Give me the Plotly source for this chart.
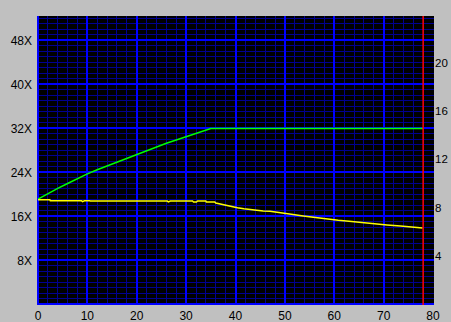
import plotly.graph_objects as go

# Read speed (green) and the other curve (yellow), position on disc
green_x = [0, 2, 4, 6, 8, 10, 12, 14, 16, 18, 20, 22, 24, 26, 28, 30, 32, 34, 35, 78]
green_y = [19.15, 20.2, 21.1, 22.0, 22.9, 23.75, 24.5, 25.2, 25.9, 26.6, 27.3, 28.0, 28.7,
           29.3, 29.9, 30.5, 31.1, 31.7, 32.0, 32.0]

yellow_x = [0, 2.4, 2.5, 8.8, 9.0, 9.4, 10.5, 10.6, 26.2, 26.4, 26.8, 31.3, 31.5, 32.1, 32.3,
            34.0, 34.1, 35.8, 36.0, 37.2, 38.2, 39.2, 40.4, 41.7, 43.3, 44.3, 45.6, 47.0,
            48, 50, 52, 53.7, 55.2, 57.1, 59.0, 60.8, 63.0, 64.8, 66.9, 68.9, 70.7, 73.4,
            75.6, 77.9]
yellow_y = [19.05, 19.05, 18.85, 18.85, 18.7, 18.85, 18.85, 18.8, 18.8, 18.65, 18.8, 18.8, 18.63,
            18.63, 18.8, 18.8, 18.63, 18.63, 18.45, 18.2, 17.96, 17.78, 17.6, 17.42, 17.23,
            17.1, 17.0, 16.95, 16.8, 16.55, 16.3, 16.08, 15.9, 15.72, 15.48, 15.29, 15.11,
            14.93, 14.81, 14.63, 14.45, 14.26, 14.08, 13.9]

end_position = 78

left_tickvals = [8, 16, 24, 32, 40, 48]
left_ticktext = ["8X", "16X", "24X", "32X", "40X", "48X"]
right_tickvals = [4, 8, 12, 16, 20]
bottom_tickvals = [0, 10, 20, 30, 40, 50, 60, 70, 80]

left_max = 52.45
right_scale = 2.2

fig = go.Figure()
fig.add_trace(go.Scatter(x=green_x, y=green_y, mode="lines",
                         line=dict(color="#00ff00", width=1.5), showlegend=False))
fig.add_trace(go.Scatter(x=yellow_x, y=yellow_y, mode="lines",
                         line=dict(color="#ffff00", width=1.5), showlegend=False))
# dummy trace to activate right axis
fig.add_trace(go.Scatter(x=[None], y=[None], yaxis="y2", showlegend=False))

fig.add_shape(type="line", xref="x", yref="paper", x0=end_position, x1=end_position,
              y0=0, y1=1, line=dict(color="#ff0000", width=1.5))

font = dict(family="Liberation Sans, Arial, sans-serif", size=12, color="black")

fig.update_layout(
    width=451, height=322,
    margin=dict(l=37, r=17, t=16, b=17, pad=0, autoexpand=False),
    paper_bgcolor="#c0c0c0",
    plot_bgcolor="#000000",
    font=font,
    xaxis=dict(range=[-0.2, 80.2], tickvals=bottom_tickvals, showgrid=True, automargin=False,
               gridcolor="#0000ff", gridwidth=2, zeroline=True, zerolinecolor="#0000ff",
               zerolinewidth=2, showline=False, ticks="", ticklen=0, ticklabelstandoff=2,
               minor=dict(dtick=2, showgrid=True, gridcolor="#000090", gridwidth=1),
               fixedrange=True),
    yaxis=dict(range=[-0.1, left_max], tickvals=left_tickvals, ticktext=left_ticktext,
               showgrid=True, gridcolor="#0000ff", gridwidth=2, zeroline=True, automargin=False,
               zerolinecolor="#0000ff", zerolinewidth=2, showline=False, ticks="", ticklen=0,
               ticklabelstandoff=4,
               minor=dict(dtick=1, showgrid=True, gridcolor="#000090", gridwidth=1)),
    yaxis2=dict(range=[-0.1 / right_scale, left_max / right_scale], overlaying="y",
                side="right", tickvals=right_tickvals, showgrid=False, zeroline=False,
                automargin=False, tickfont=dict(size=11.5),
                ticks="", ticklen=0, ticklabelstandoff=0),
)

fig.write_html("out.html")
